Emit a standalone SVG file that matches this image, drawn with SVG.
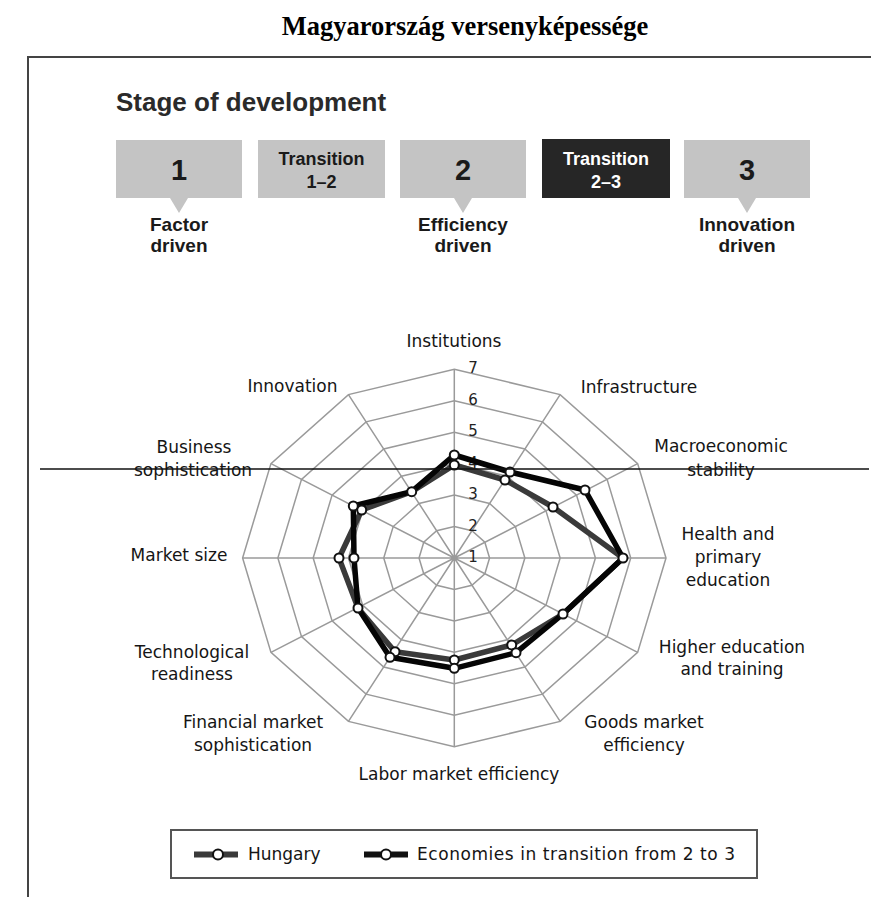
<svg xmlns="http://www.w3.org/2000/svg" width="871" height="897" viewBox="0 0 871 897">
<style>
.title{font-family:"Liberation Serif","Times New Roman",serif;font-weight:bold;font-size:26.5px;fill:#000;text-anchor:middle}
.head{font-family:"Liberation Sans",Arial,sans-serif;font-weight:bold;font-size:26px;fill:#2a2a2a}
.num{font-family:"Liberation Sans",Arial,sans-serif;font-weight:bold;font-size:29px;fill:#1a1a1a;text-anchor:middle}
.tr{font-family:"Liberation Sans",Arial,sans-serif;font-weight:bold;font-size:18px;fill:#1a1a1a;text-anchor:middle}
.trw{fill:#fff}
.stg{font-family:"Liberation Sans",Arial,sans-serif;font-weight:bold;font-size:19px;fill:#1a1a1a;text-anchor:middle}
.box{fill:#c4c4c4}
.dark{fill:#262626}
.grid{fill:none;stroke:#9a9a9a;stroke-width:1.5}
.lbl{font-family:"DejaVu Sans","Liberation Sans",sans-serif;font-size:17px;fill:#151515;text-anchor:middle}
.tick{font-family:"DejaVu Sans","Liberation Sans",sans-serif;font-size:15px;fill:#222;text-anchor:middle}
.hun{fill:none;stroke:#3a3a3a;stroke-width:5.5;stroke-linejoin:round}
.eco{fill:none;stroke:#050505;stroke-width:5.5;stroke-linejoin:round}
.mk{fill:#fff;stroke:#111;stroke-width:2}
.frame{stroke:#444;stroke-width:2;fill:none}
</style>
<text class="title" x="465" y="35">Magyarország versenyképessége</text>
<path class="frame" d="M28,897 V57 H871"/>

<g id="stage-title"><text class="head" x="116" y="111">Stage of development</text></g>

<g id="stage-1">
<rect class="box" x="116" y="140" width="126" height="58"/>
<polygon class="box" points="170,198 188,198 179,213"/>
<text class="num" x="179" y="180">1</text>
<text class="stg" x="179" y="231">Factor</text>
<text class="stg" x="179" y="252">driven</text>
</g>
<g id="stage-t12">
<rect class="box" x="258" y="140" width="127" height="58"/>
<text class="tr" x="321.5" y="165">Transition</text>
<text class="tr" x="321.5" y="188">1–2</text>
</g>
<g id="stage-2">
<rect class="box" x="400" y="140" width="126" height="58"/>
<polygon class="box" points="454,198 472,198 463,213"/>
<text class="num" x="463" y="180">2</text>
<text class="stg" x="463" y="231">Efficiency</text>
<text class="stg" x="463" y="252">driven</text>
</g>
<g id="stage-t23">
<rect class="dark" x="542" y="139" width="128" height="59"/>
<text class="tr trw" x="606" y="165">Transition</text>
<text class="tr trw" x="606" y="188">2–3</text>
</g>
<g id="stage-3">
<rect class="box" x="684" y="140" width="126" height="58"/>
<polygon class="box" points="738,198 756,198 747,213"/>
<text class="num" x="747" y="180">3</text>
<text class="stg" x="747" y="231">Innovation</text>
<text class="stg" x="747" y="252">driven</text>
</g>

<g id="radar-grid" transform="translate(454.3,558)">
<polygon class="grid" points="0,-31.45 17.64,-27.24 30.55,-15.73 35.28,0 30.55,15.73 17.64,27.24 0,31.45 -17.64,27.24 -30.55,15.73 -35.28,0 -30.55,-15.73 -17.64,-27.24"/>
<polygon class="grid" points="0,-62.9 35.28,-54.47 61.1,-31.45 70.57,0 61.1,31.45 35.28,54.47 0,62.9 -35.28,54.47 -61.1,31.45 -70.57,0 -61.1,-31.45 -35.28,-54.47"/>
<polygon class="grid" points="0,-94.35 52.93,-81.71 91.67,-47.18 105.85,0 91.67,47.18 52.93,81.71 0,94.35 -52.93,81.71 -91.67,47.18 -105.85,0 -91.67,-47.18 -52.93,-81.71"/>
<polygon class="grid" points="0,-125.8 70.57,-108.95 122.22,-62.9 141.13,0 122.22,62.9 70.57,108.95 0,125.8 -70.57,108.95 -122.22,62.9 -141.13,0 -122.22,-62.9 -70.57,-108.95"/>
<polygon class="grid" points="0,-157.25 88.21,-136.18 152.78,-78.63 176.42,0 152.78,78.63 88.21,136.18 0,157.25 -88.21,136.18 -152.78,78.63 -176.42,0 -152.78,-78.63 -88.21,-136.18"/>
<polygon class="grid" points="0,-188.7 105.85,-163.42 183.34,-94.35 211.7,0 183.34,94.35 105.85,163.42 0,188.7 -105.85,163.42 -183.34,94.35 -211.7,0 -183.34,-94.35 -105.85,-163.42"/>
<path class="grid" d="M0,0 L0,-188.7 M0,0 L105.85,-163.42 M0,0 L183.34,-94.35 M0,0 L211.7,0 M0,0 L183.34,94.35 M0,0 L105.85,163.42 M0,0 L0,188.7 M0,0 L-105.85,163.42 M0,0 L-183.34,94.35 M0,0 L-211.7,0 M0,0 L-183.34,-94.35 M0,0 L-105.85,-163.42"/>
</g>

<g id="ticks">
<text class="tick" x="473" y="562">1</text>
<text class="tick" x="473" y="531">2</text>
<text class="tick" x="473" y="499">3</text>
<text class="tick" x="473" y="468">4</text>
<text class="tick" x="473" y="436">5</text>
<text class="tick" x="473" y="405">6</text>
<text class="tick" x="473" y="373">7</text>
</g>

<g id="axis-labels">
<text class="lbl" x="454" y="347">Institutions</text>
<text class="lbl" x="639" y="393">Infrastructure</text>
<text class="lbl" x="721" y="452">Macroeconomic</text>
<text class="lbl" x="721" y="476">stability</text>
<text class="lbl" x="728" y="540">Health and</text>
<text class="lbl" x="728" y="563">primary</text>
<text class="lbl" x="728" y="586">education</text>
<text class="lbl" x="732" y="653">Higher education</text>
<text class="lbl" x="732" y="675">and training</text>
<text class="lbl" x="644" y="728">Goods market</text>
<text class="lbl" x="644" y="751">efficiency</text>
<text class="lbl" x="459" y="780">Labor market efficiency</text>
<text class="lbl" x="253" y="728">Financial market</text>
<text class="lbl" x="253" y="751">sophistication</text>
<text class="lbl" x="192" y="658">Technological</text>
<text class="lbl" x="192" y="680">readiness</text>
<text class="lbl" x="179" y="561">Market size</text>
<text class="lbl" x="194" y="453">Business</text>
<text class="lbl" x="193" y="476">sophistication</text>
<text class="lbl" x="292.5" y="392">Innovation</text>
</g>

<g id="series-hungary">
<polygon class="hun" points="454.3,465 505,480 553,507 623,558 563,614 511.7,645 454.3,660 395,651.7 358,608 339,558 361.7,510 411.7,491.7"/>
</g>
<g id="series-transition">
<polygon class="eco" points="454.3,455 510,472 585,490 623,558 563,614 516,652.7 454.3,668.3 390,657.3 358,608 354,558 353.3,506 411.7,491.7"/>
</g>
<g id="markers">
<circle class="mk" cx="454.3" cy="465" r="4.5"/><circle class="mk" cx="505" cy="480" r="4.5"/><circle class="mk" cx="553" cy="507" r="4.5"/><circle class="mk" cx="511.7" cy="645" r="4.5"/><circle class="mk" cx="454.3" cy="660" r="4.5"/><circle class="mk" cx="395" cy="651.7" r="4.5"/><circle class="mk" cx="339" cy="558" r="4.5"/><circle class="mk" cx="361.7" cy="510" r="4.5"/>
<circle class="mk" cx="454.3" cy="455" r="4.5"/><circle class="mk" cx="510" cy="472" r="4.5"/><circle class="mk" cx="585" cy="490" r="4.5"/><circle class="mk" cx="623" cy="558" r="4.5"/><circle class="mk" cx="563" cy="614" r="4.5"/><circle class="mk" cx="516" cy="652.7" r="4.5"/><circle class="mk" cx="454.3" cy="668.3" r="4.5"/><circle class="mk" cx="390" cy="657.3" r="4.5"/><circle class="mk" cx="358" cy="608" r="4.5"/><circle class="mk" cx="354" cy="558" r="4.5"/><circle class="mk" cx="353.3" cy="506" r="4.5"/><circle class="mk" cx="411.7" cy="491.7" r="4.5"/>
</g>

<g id="legend">
<rect x="171" y="830" width="586" height="48" fill="#fff" stroke="#555" stroke-width="2"/>
<line x1="194" y1="854.5" x2="238" y2="854.5" stroke="#3a3a3a" stroke-width="6"/>
<circle class="mk" cx="218" cy="854.5" r="5"/>
<text class="lbl" x="248" y="860" style="text-anchor:start">Hungary</text>
<line x1="364" y1="854.5" x2="408" y2="854.5" stroke="#111" stroke-width="6"/>
<circle class="mk" cx="386" cy="854.5" r="5"/>
<text class="lbl" x="417" y="860" style="text-anchor:start" textLength="318">Economies in transition from 2 to 3</text>
</g>

<line x1="40" y1="469" x2="869" y2="469" stroke="#111" stroke-width="1.5"/>
</svg>
